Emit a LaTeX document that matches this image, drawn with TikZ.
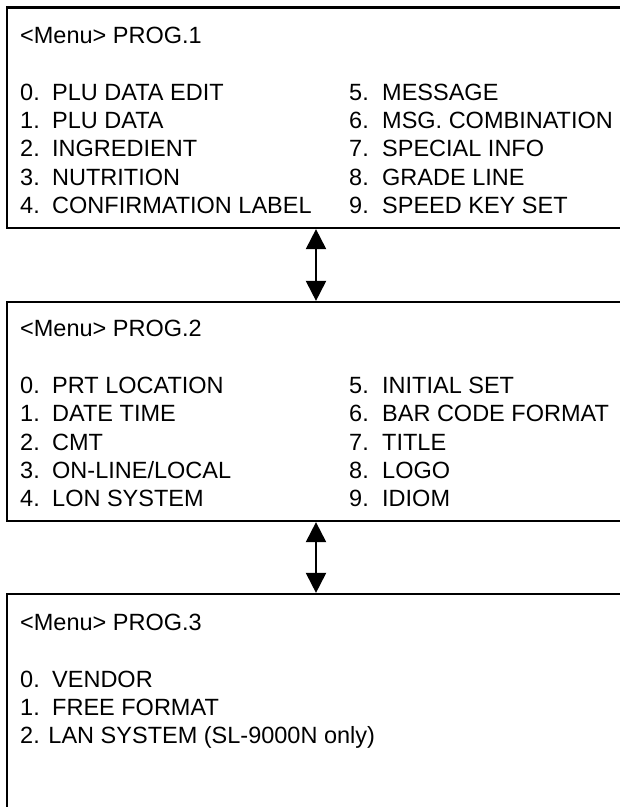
\documentclass[tikz,border=0pt]{standalone}
\usepackage{fontspec}
\setmainfont{Liberation Sans}
\usetikzlibrary{arrows.meta}
\tikzset{
  menubox/.style={draw, line width=2.2pt, rectangle, inner sep=0pt, minimum width=623pt},
  itemtxt/.style={anchor=base west, inner sep=0pt, font=\fontsize{23.5}{28}\selectfont},
  dblarrow/.style={line width=2pt, {Triangle[length=20pt,width=20pt]}-{Triangle[length=20pt,width=20pt]}}
}
\begin{document}
\begin{tikzpicture}[x=1pt,y=-1pt]
\useasboundingbox (0,0) rectangle (620,807);
\clip (0,0) rectangle (620,807);
% boxes
\node[menubox, minimum height=220.5pt] (b1) at (318.5,117.75) {};
\node[menubox, minimum height=219pt] (b2) at (318.5,411.5) {};
\node[menubox, minimum height=260pt] (b3) at (318.5,724) {};
% box 1
\node[itemtxt] (t1) at (20,43) {<Menu> PROG.1};
\node[itemtxt] (a0n) at (20,100) {0.};  \node[itemtxt] (a0) at (52,100) {PLU DATA EDIT};
\node[itemtxt] (a1n) at (20,128.3) {1.};  \node[itemtxt] (a1) at (52,128.3) {PLU DATA};
\node[itemtxt] (a2n) at (20,156.6) {2.};  \node[itemtxt] (a2) at (52,156.6) {INGREDIENT};
\node[itemtxt] (a3n) at (20,185) {3.};  \node[itemtxt] (a3) at (52,185) {NUTRITION};
\node[itemtxt] (a4n) at (20,213.3) {4.};  \node[itemtxt] (a4) at (52,213.3) {CONFIRMATION LABEL};
\node[itemtxt] (a5n) at (349,100) {5.};  \node[itemtxt] (a5) at (382,100) {MESSAGE};
\node[itemtxt] (a6n) at (349,128.3) {6.};  \node[itemtxt] (a6) at (382,128.3) {MSG. COMBINATION};
\node[itemtxt] (a7n) at (349,156.6) {7.};  \node[itemtxt] (a7) at (382,156.6) {SPECIAL INFO};
\node[itemtxt] (a8n) at (349,185) {8.};  \node[itemtxt] (a8) at (382,185) {GRADE LINE};
\node[itemtxt] (a9n) at (349,213.3) {9.};  \node[itemtxt] (a9) at (382,213.3) {SPEED KEY SET};
% box 2
\node[itemtxt] (t2) at (20,336) {<Menu> PROG.2};
\node[itemtxt] (b0n) at (20,393.5) {0.};  \node[itemtxt] (bb0) at (52,393.5) {PRT LOCATION};
\node[itemtxt] (b1n) at (20,421.8) {1.};  \node[itemtxt] (bb1) at (52,421.8) {DATE TIME};
\node[itemtxt] (b2n) at (20,450.1) {2.};  \node[itemtxt] (bb2) at (52,450.1) {CMT};
\node[itemtxt] (b3n) at (20,478.5) {3.};  \node[itemtxt] (bb3) at (52,478.5) {ON-LINE/LOCAL};
\node[itemtxt] (b4n) at (20,506.8) {4.};  \node[itemtxt] (bb4) at (52,506.8) {LON SYSTEM};
\node[itemtxt] (b5n) at (349,393.5) {5.};  \node[itemtxt] (bb5) at (382,393.5) {INITIAL SET};
\node[itemtxt] (b6n) at (349,421.8) {6.};  \node[itemtxt] (bb6) at (382,421.8) {BAR CODE FORMAT};
\node[itemtxt] (b7n) at (349,450.1) {7.};  \node[itemtxt] (bb7) at (382,450.1) {TITLE};
\node[itemtxt] (b8n) at (349,478.5) {8.};  \node[itemtxt] (bb8) at (382,478.5) {LOGO};
\node[itemtxt] (b9n) at (349,506.8) {9.};  \node[itemtxt] (bb9) at (382,506.8) {IDIOM};
% box 3
\node[itemtxt] (t3) at (20,630) {<Menu> PROG.3};
\node[itemtxt] (c0n) at (20,687) {0.};  \node[itemtxt] (c0) at (52,687) {VENDOR};
\node[itemtxt] (c1n) at (20,715.3) {1.};  \node[itemtxt] (c1) at (52,715.3) {FREE FORMAT};
\node[itemtxt] (c2) at (20,743.6) {2. LAN SYSTEM (SL-9000N only)};
% arrows
\coordinate (ax) at (316,0);
\draw[dblarrow] (b1.south -| ax) -- (b2.north -| ax);
\draw[dblarrow] (b2.south -| ax) -- (b3.north -| ax);
\end{tikzpicture}
\end{document}
